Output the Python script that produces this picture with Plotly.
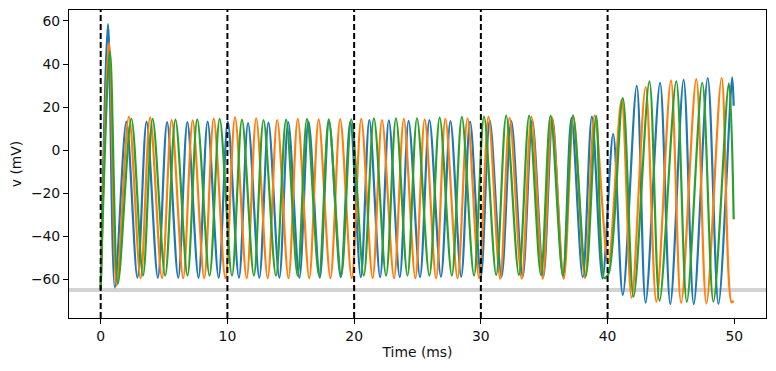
import plotly.graph_objects as go

# ---- data (keypoints: start, peaks and troughs) ----
blue_t = [0.0, 0.58, 1.12, 2.03, 2.90, 3.62, 4.51, 5.24, 6.12, 6.84, 7.72, 8.44, 9.31,
          10.03, 10.91, 11.63, 12.52, 13.24, 14.10, 14.80, 15.68, 16.40, 17.29, 18.02,
          18.94, 19.70, 20.53, 21.20, 22.05, 22.74, 23.60, 24.30, 25.20, 25.94, 26.85,
          27.60, 28.45, 29.15, 30.00, 30.70, 31.63, 32.40, 33.30, 34.05, 34.93, 35.65,
          36.48, 37.15, 38.04, 38.76, 39.60, 40.44, 41.20, 42.30, 43.00, 44.14, 44.95,
          46.00, 46.80, 47.90, 48.75, 49.83, 49.95]
blue_v = [-65, 58.5, -63.8, 13.2, -59.3, 13.2, -59.3, 13.0, -59.3, 13.0, -59.3, 13.2, -59.3,
          13.3, -59.3, 12.6, -59.3, 12.8, -59.3, 13.0, -59.3, 13.2, -59.3, 13.4, -59.0,
          13.2, -59.0, 14.0, -59.0, 13.8, -59.0, 13.6, -59.0, 14.0, -58.8, 13.5, -58.8,
          13.2, -58.8, 13.8, -58.8, 13.5, -58.8, 14.0, -58.8, 14.5, -58.8, 15.0, -59.0,
          15.6, -59.6, 7.4, -67.3, 29.9, -70.9, 31.2, -71.5, 32.7, -71.5, 33.5, -71.5,
          33.8, 20.6]

orange_t = [0.0, 0.66, 1.26, 2.23, 3.15, 3.90, 4.84, 5.60, 6.51, 7.26, 8.17, 8.92, 9.84,
            10.60, 11.52, 12.27, 13.18, 13.93, 14.82, 15.55, 16.46, 17.20, 18.13, 18.90,
            19.81, 20.56, 21.46, 22.20, 23.15, 23.92, 24.83, 25.57, 26.47, 27.20, 28.16,
            28.95, 29.86, 30.60, 31.52, 32.27, 33.22, 33.99, 34.88, 35.60, 36.54, 37.30,
            38.22, 38.98, 40.05, 41.10, 41.90, 43.00, 43.85, 45.00, 45.80, 47.00, 47.80,
            49.00, 49.78, 49.95]
orange_v = [-65, 50.0, -63.0, 15.6, -59.5, 15.2, -59.5, 14.0, -59.5, 13.8, -59.5, 14.6, -59.5,
            15.3, -59.5, 14.8, -59.5, 14.0, -59.5, 14.5, -59.5, 14.3, -59.5, 14.4, -59.5,
            14.5, -59.5, 14.0, -59.5, 14.5, -59.5, 14.3, -59.5, 14.5, -59.5, 14.8, -59.5,
            15.6, -59.8, 15.0, -59.8, 15.5, -59.8, 15.5, -59.8, 15.6, -59.5, 16.2, -52.6,
            23.4, -68.6, 29.3, -70.4, 32.4, -71.0, 33.0, -71.3, 33.5, -70.7, -70.0]

green_t = [0.0, 0.73, 1.36, 2.42, 3.34, 4.10, 5.09, 5.90, 6.85, 7.62, 8.59, 9.39, 10.36,
           11.15, 12.09, 12.85, 13.83, 14.63, 15.54, 16.28, 17.23, 18.00, 18.98, 19.78,
           20.76, 21.56, 22.52, 23.30, 24.21, 24.96, 25.94, 26.75, 27.71, 28.50, 29.46,
           30.25, 31.21, 32.00, 33.00, 33.81, 34.74, 35.50, 36.47, 37.27, 38.28, 39.10,
           39.75, 40.10, 41.20, 42.05, 43.30, 44.10, 45.42, 46.25, 47.47, 48.35, 49.57,
           49.95]
green_v = [-65, 46.0, -62.0, 14.5, -58.3, 14.5, -58.3, 14.2, -58.3, 14.3, -58.3, 14.5, -58.3,
           14.2, -58.3, 14.0, -58.3, 14.2, -58.3, 14.5, -58.3, 14.3, -58.3, 14.3, -58.3,
           14.8, -58.3, 14.8, -58.3, 14.8, -58.3, 15.1, -58.3, 15.4, -58.3, 15.6, -58.0,
           16.0, -58.0, 16.0, -58.0, 16.0, -58.0, 16.2, -58.5, 15.8, -59.5, -57.0, 24.2,
           -68.0, 31.9, -70.0, 31.9, -70.5, 31.3, -70.4, 31.0, -32.1]

stim_times = [0, 10, 20, 30, 40]
rest_v = -65
x_ticks = [0, 10, 20, 30, 40, 50]
y_ticks = [-60, -40, -20, 0, 20, 40, 60]
y_ticklabels = ["\u221260", "\u221240", "\u221220", "0", "20", "40", "60"]

series = [(blue_t, blue_v, "#1f77b4"), (orange_t, orange_v, "#ff7f0e"), (green_t, green_v, "#2ca02c")]

fig = go.Figure()
for t, v, c in series:
    fig.add_trace(go.Scatter(x=t, y=v, mode="lines",
                             line=dict(color=c, width=2.2, shape="spline", smoothing=0.9),
                             showlegend=False, hoverinfo="skip"))

fig.add_shape(type="line", xref="x domain", yref="y", x0=0, x1=1, y0=rest_v, y1=rest_v,
              line=dict(color="#d3d3d3", width=4), layer="below")
for s in stim_times:
    fig.add_shape(type="line", xref="x", yref="y domain", x0=s, x1=s, y0=0, y1=1,
                  line=dict(color="black", width=2, dash="6px,3px"), layer="above")

font = dict(family="DejaVu Sans", size=13.9, color="#111111")
fig.update_layout(
    width=776, height=371,
    margin=dict(l=69, r=10, t=10, b=53, autoexpand=False),
    paper_bgcolor="white", plot_bgcolor="white",
    font=font,
)
fig.update_xaxes(range=[-2.5, 52.5], tickvals=x_ticks, ticks="outside", ticklen=5,
                 tickwidth=1, tickcolor="black", showline=True, linecolor="black",
                 linewidth=1, mirror=True, showgrid=False, zeroline=False, automargin=False,
                 title=dict(text="Time (ms)", font=font, standoff=4))
fig.update_yaxes(range=[-78.0, 65.1], tickvals=y_ticks, ticktext=y_ticklabels,
                 ticks="outside", ticklen=5, tickwidth=1, tickcolor="black",
                 showline=True, linecolor="black", linewidth=1, mirror=True,
                 showgrid=False, zeroline=False, automargin=False,
                 title=dict(text="v (mV)", font=font, standoff=6))

fig.write_html("out.html", config={"displayModeBar": False, "staticPlot": True},
               post_script="document.body.style.margin='0';document.body.style.overflow='hidden';")
